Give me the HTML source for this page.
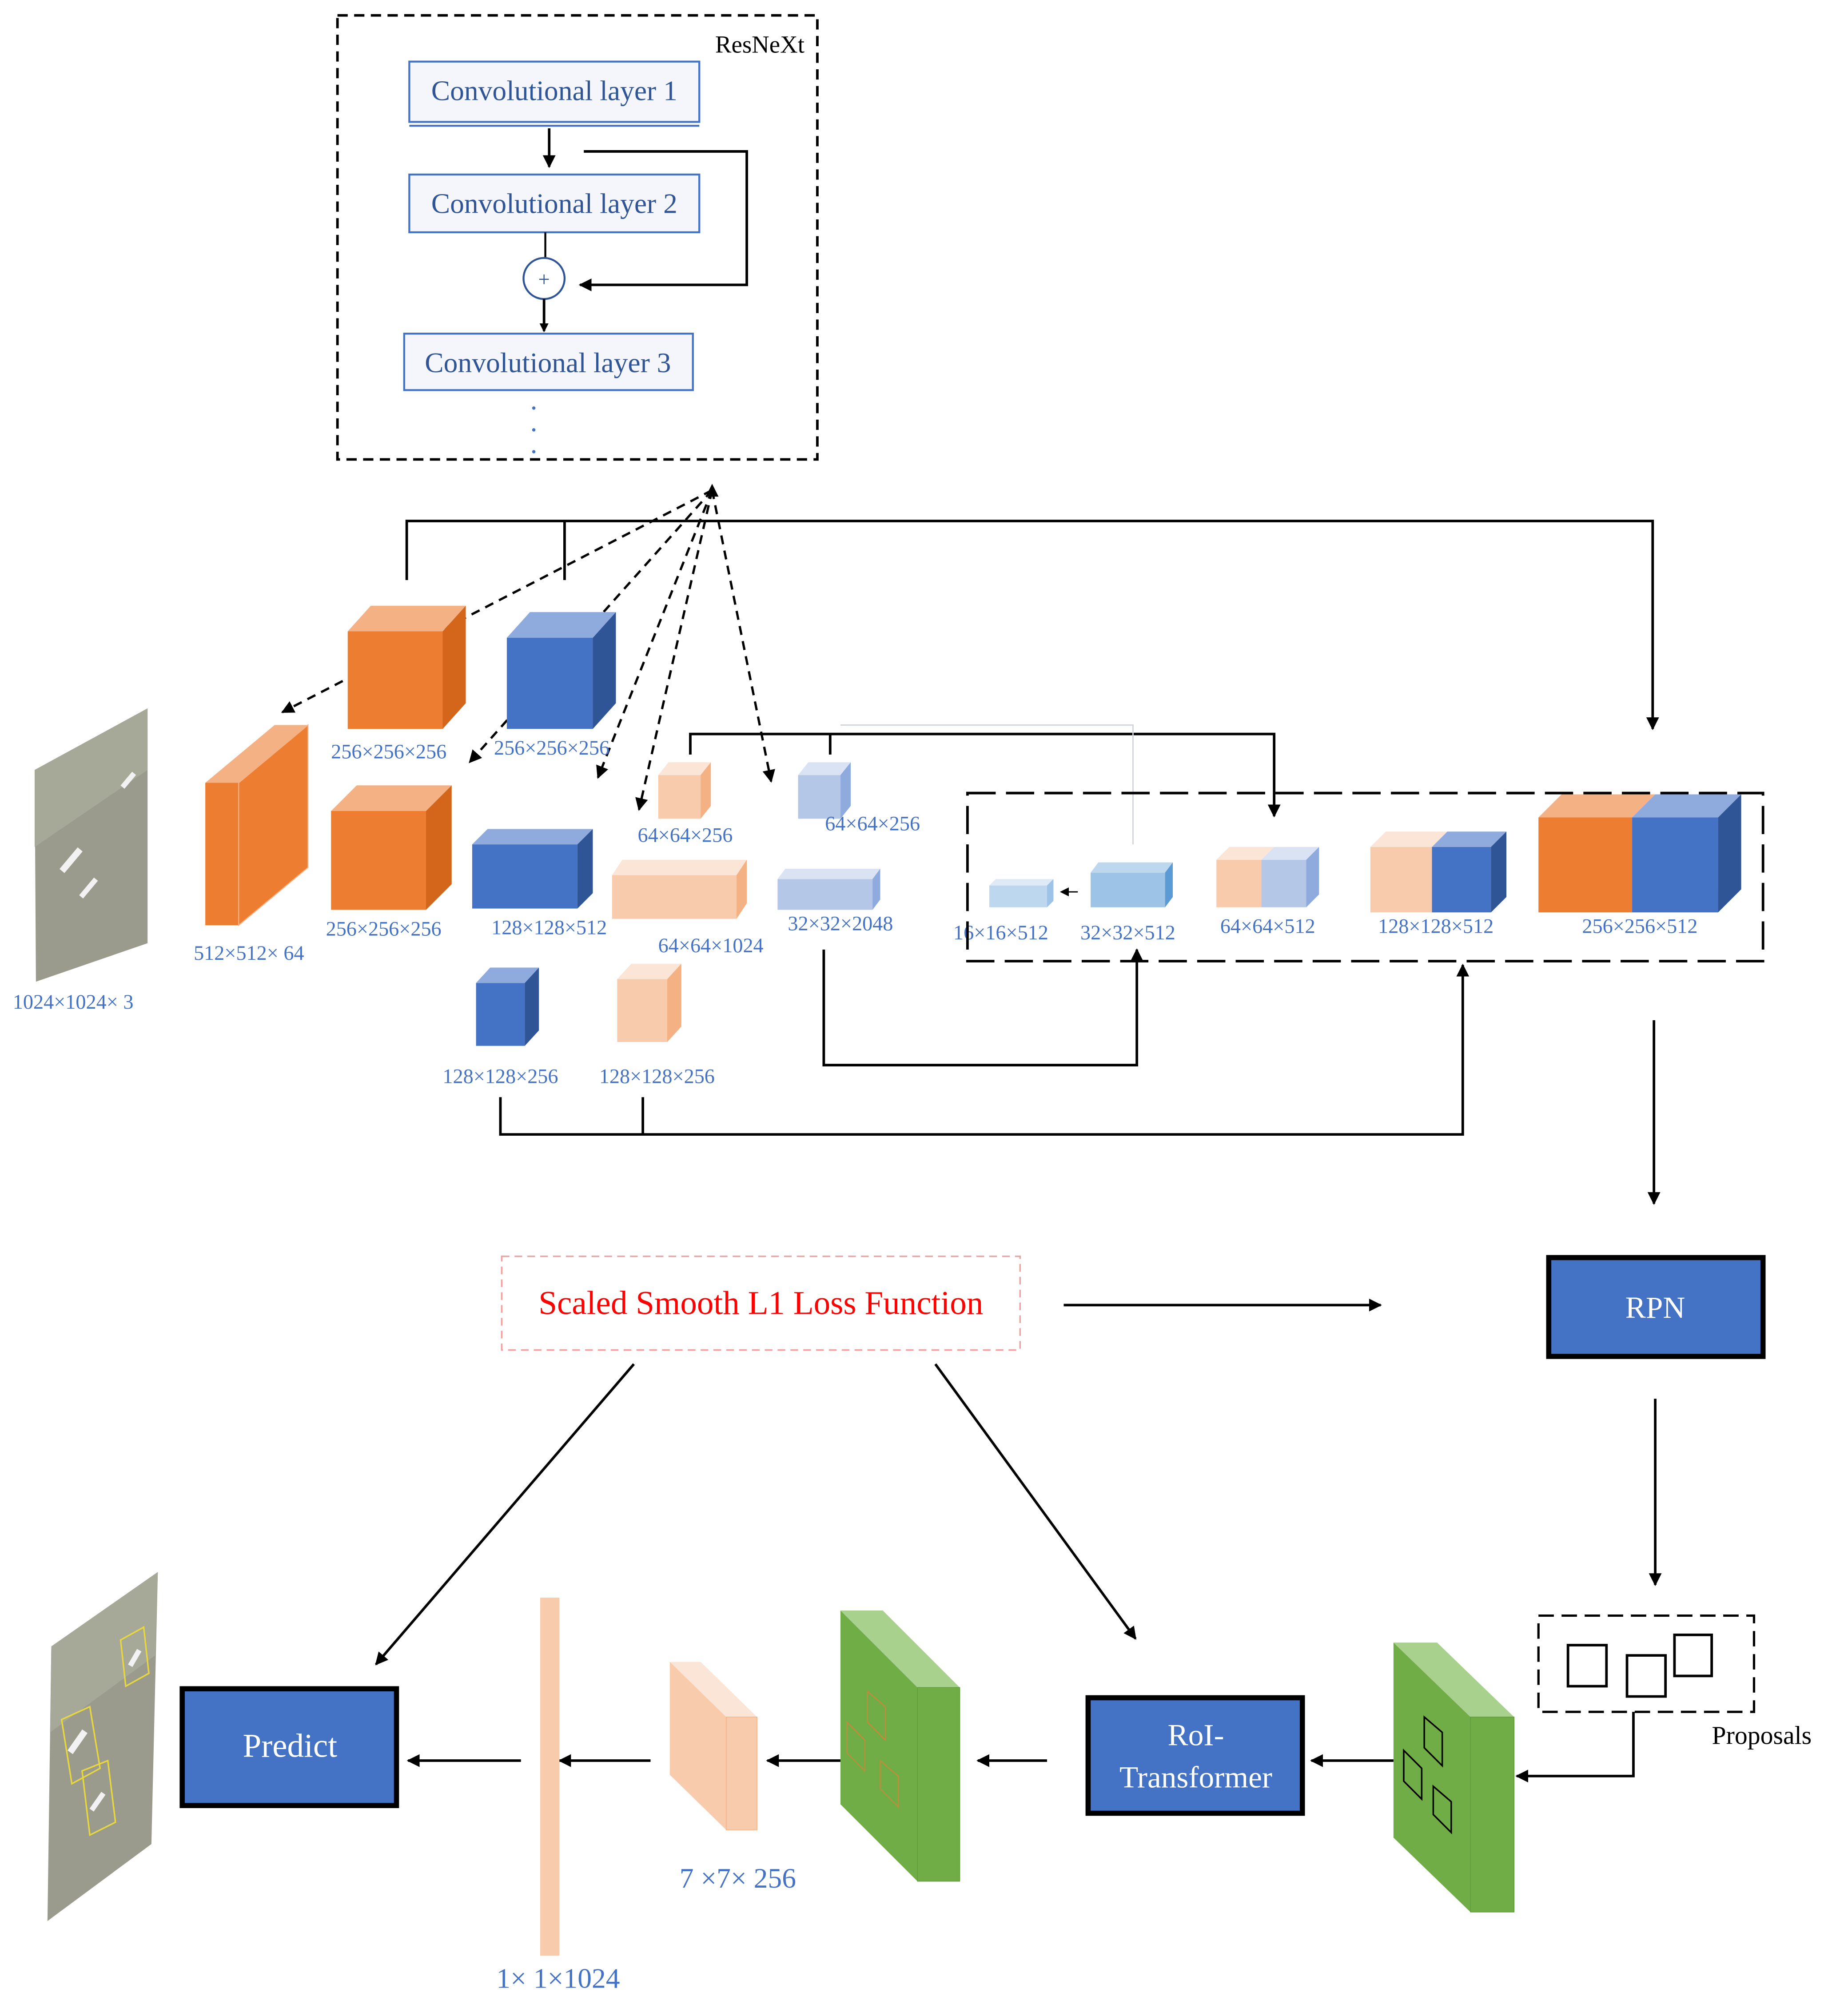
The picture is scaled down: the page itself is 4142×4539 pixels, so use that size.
<!DOCTYPE html>
<html><head><meta charset="utf-8"><style>
html,body{margin:0;padding:0;background:#fff;}
svg{display:block;}
text{font-family:"Liberation Serif",serif;}
</style></head><body>
<svg width="4142" height="4539" viewBox="0 0 1434 1571" preserveAspectRatio="none" xmlns="http://www.w3.org/2000/svg">
<defs>
<marker id="a" markerWidth="10" markerHeight="10" refX="9" refY="5" orient="auto" markerUnits="userSpaceOnUse"><path d="M0,0 L10,5 L0,10 z" fill="#000"/></marker>
<marker id="s" markerWidth="7" markerHeight="7" refX="6" refY="3.5" orient="auto" markerUnits="userSpaceOnUse"><path d="M0,0 L7,3.5 L0,7 z" fill="#000"/></marker>
</defs>
<rect width="1434" height="1571" fill="#fff"/>

<rect x="263" y="12" width="374" height="346" fill="none" stroke="#000" stroke-width="2" stroke-dasharray="8,5"/>
<text x="627" y="41" font-size="19" text-anchor="end" fill="#000">ResNeXt</text>
<rect x="319" y="48" width="226" height="47" fill="#f4f6fb" stroke="#4472c4" stroke-width="1.5"/>
<line x1="319" y1="98" x2="545" y2="98" stroke="#4472c4" stroke-width="1.5"/>
<text x="432" y="78" font-size="22" text-anchor="middle" fill="#2f5597">Convolutional layer 1</text>
<line x1="428" y1="100" x2="428" y2="130" stroke="#000" stroke-width="2" marker-end="url(#a)"/>
<polyline points="455,118 582,118 582,222 452,222" fill="none" stroke="#000" stroke-width="2" marker-end="url(#a)"/>
<rect x="319" y="136" width="226" height="45" fill="#f4f6fb" stroke="#4472c4" stroke-width="1.5"/>
<text x="432" y="166" font-size="22" text-anchor="middle" fill="#2f5597">Convolutional layer 2</text>
<line x1="425" y1="181" x2="425" y2="201" stroke="#000" stroke-width="1.5"/>
<circle cx="424" cy="217" r="16" fill="#fff" stroke="#2f5597" stroke-width="1.5"/>
<text x="424" y="223" font-size="16" text-anchor="middle" fill="#2f5597">+</text>
<line x1="424" y1="233" x2="424" y2="258" stroke="#000" stroke-width="2" marker-end="url(#s)"/>
<rect x="315" y="260" width="225" height="44" fill="#f4f6fb" stroke="#4472c4" stroke-width="1.5"/>
<text x="427" y="290" font-size="22" text-anchor="middle" fill="#2f5597">Convolutional layer 3</text>
<circle cx="416" cy="318" r="1.3" fill="#4472c4"/><circle cx="416" cy="335" r="1.3" fill="#4472c4"/><circle cx="416" cy="352" r="1.3" fill="#4472c4"/>

<g stroke="#000" stroke-width="1.8" stroke-dasharray="7,5" fill="none">
<line x1="555" y1="382" x2="220" y2="555" marker-end="url(#a)"/>
<line x1="555" y1="382" x2="366" y2="594" marker-end="url(#a)"/>
<line x1="555" y1="382" x2="466" y2="606" marker-end="url(#a)"/>
<line x1="555" y1="382" x2="498" y2="631" marker-end="url(#a)"/>
<line x1="555" y1="382" x2="601" y2="609" marker-end="url(#a)"/>
</g>
<path d="M555,377 L550,387 L560,387 z" fill="#000"/>

<polyline points="317,452 317,406 1288,406 1288,568" fill="none" stroke="#000" stroke-width="2" marker-end="url(#a)"/>
<line x1="440" y1="452" x2="440" y2="406" stroke="#000" stroke-width="2"/>

<g>
<rect x="271" y="492" width="74" height="76" fill="#ed7d31"/><polygon points="271,492 289,472 363,472 345,492" fill="#f4b183"/><polygon points="345,492 363,472 363,548 345,568" fill="#d4661c"/>
<rect x="395" y="497" width="67" height="71" fill="#4472c4"/><polygon points="395,497 413,477 480,477 462,497" fill="#8faadc"/><polygon points="462,497 480,477 480,548 462,568" fill="#2f5597"/>
<rect x="160" y="610" width="26" height="111" fill="#ed7d31"/><polygon points="160,610 214,565 240,565 186,610" fill="#f4b183"/><polygon points="186,610 240,565 240,676 186,721" fill="#ed7d31" stroke="#f4b183" stroke-width="0.8"/>
<rect x="258" y="632" width="74" height="77" fill="#ed7d31"/><polygon points="258,632 278,612 352,612 332,632" fill="#f4b183"/><polygon points="332,632 352,612 352,689 332,709" fill="#d4661c"/>
<rect x="368" y="658" width="82" height="50" fill="#4472c4"/><polygon points="368,658 380,646 462,646 450,658" fill="#8faadc"/><polygon points="450,658 462,646 462,696 450,708" fill="#2f5597"/>
<rect x="477" y="682" width="97" height="34" fill="#f8cbad"/><polygon points="477,682 485,670 582,670 574,682" fill="#fbe5d6"/><polygon points="574,682 582,670 582,704 574,716" fill="#f4b183"/>
<rect x="513" y="604" width="33" height="34" fill="#f8cbad"/><polygon points="513,604 521,594 554,594 546,604" fill="#fbe5d6"/><polygon points="546,604 554,594 554,628 546,638" fill="#f4b183"/>
<rect x="622" y="604" width="33" height="34" fill="#b4c7e7"/><polygon points="622,604 630,594 663,594 655,604" fill="#dae3f3"/><polygon points="655,604 663,594 663,628 655,638" fill="#8faadc"/>
<rect x="606" y="685" width="74" height="24" fill="#b4c7e7"/><polygon points="606,685 612,677 686,677 680,685" fill="#dae3f3"/><polygon points="680,685 686,677 686,701 680,709" fill="#8faadc"/>
<rect x="371" y="766" width="38" height="49" fill="#4472c4"/><polygon points="371,766 382,754 420,754 409,766" fill="#8faadc"/><polygon points="409,766 420,754 420,803 409,815" fill="#2f5597"/>
<rect x="481" y="763" width="39" height="49" fill="#f8cbad"/><polygon points="481,763 492,751 531,751 520,763" fill="#fbe5d6"/><polygon points="520,763 531,751 531,800 520,812" fill="#f4b183"/>
</g>

<g font-size="16" fill="#4472c4" text-anchor="middle">
<text x="303" y="591">256×256×256</text>
<text x="430" y="588">256×256×256</text>
<text x="194" y="748">512×512× 64</text>
<text x="299" y="729">256×256×256</text>
<text x="428" y="728">128×128×512</text>
<text x="554" y="742">64×64×1024</text>
<text x="534" y="656">64×64×256</text>
<text x="680" y="647">64×64×256</text>
<text x="655" y="725">32×32×2048</text>
<text x="390" y="844">128×128×256</text>
<text x="512" y="844">128×128×256</text>
<text x="57" y="786">1024×1024× 3</text>
<text x="780" y="732">16×16×512</text>
<text x="879" y="732">32×32×512</text>
<text x="988" y="727">64×64×512</text>
<text x="1119" y="727">128×128×512</text>
<text x="1278" y="727">256×256×512</text>
</g>

<polyline points="538,588 538,572 993,572 993,636" fill="none" stroke="#000" stroke-width="2" marker-end="url(#a)"/>
<line x1="647" y1="572" x2="647" y2="588" stroke="#000" stroke-width="2"/>
<polyline points="655,565 883,565 883,658" fill="none" stroke="#d0d4e0" stroke-width="1"/>

<rect x="754" y="618" width="620" height="131" fill="none" stroke="#000" stroke-width="2" stroke-dasharray="22,8"/>
<rect x="771" y="690" width="45" height="17" fill="#bdd7ee"/><polygon points="771,690 776,685 821,685 816,690" fill="#deebf7"/><polygon points="816,690 821,685 821,702 816,707" fill="#9dc3e6"/>
<line x1="840" y1="695" x2="827" y2="695" stroke="#000" stroke-width="1" marker-end="url(#s)"/>
<rect x="850" y="680" width="58" height="27" fill="#9dc3e6"/><polygon points="850,680 856,672 914,672 908,680" fill="#bdd7ee"/><polygon points="908,680 914,672 914,699 908,707" fill="#5b9bd5"/>
<rect x="948" y="670" width="35" height="37" fill="#f8cbad"/><rect x="983" y="670" width="35" height="37" fill="#b4c7e7"/>
<polygon points="948,670 958,660 993,660 983,670" fill="#fbe5d6"/><polygon points="983,670 993,660 1028,660 1018,670" fill="#dae3f3"/><polygon points="1018,670 1028,660 1028,697 1018,707" fill="#8faadc"/>
<rect x="1068" y="660" width="48" height="51" fill="#f8cbad"/><rect x="1116" y="660" width="46" height="51" fill="#4472c4"/>
<polygon points="1068,660 1080,648 1128,648 1116,660" fill="#fbe5d6"/><polygon points="1116,660 1128,648 1174,648 1162,660" fill="#8faadc"/><polygon points="1162,660 1174,648 1174,699 1162,711" fill="#2f5597"/>
<rect x="1199" y="637" width="73" height="74" fill="#ed7d31"/><rect x="1272" y="637" width="67" height="74" fill="#4472c4"/>
<polygon points="1199,637 1217,619 1290,619 1272,637" fill="#f4b183"/><polygon points="1272,637 1290,619 1357,619 1339,637" fill="#8faadc"/><polygon points="1339,637 1357,619 1357,693 1339,711" fill="#2f5597"/>

<polyline points="642,740 642,830 886,830 886,740" fill="none" stroke="#000" stroke-width="2" marker-end="url(#a)"/>
<polyline points="390,855 390,884 1140,884 1140,752" fill="none" stroke="#000" stroke-width="2" marker-end="url(#a)"/>
<line x1="501" y1="855" x2="501" y2="884" stroke="#000" stroke-width="2"/>

<polygon points="27,600 115,552 115,735 28,765" fill="#9a9b8c"/>
<polygon points="27,600 115,552 115,600 27,660" fill="#a6a898"/>
<g fill="#f2f2f2"><rect x="44" y="668" width="22" height="5" transform="rotate(-50 55 670)"/><rect x="60" y="690" width="18" height="4" transform="rotate(-50 69 692)"/><rect x="93" y="606" width="14" height="4" transform="rotate(-50 100 608)"/></g>

<line x1="1289" y1="795" x2="1289" y2="938" stroke="#000" stroke-width="2" marker-end="url(#a)"/>
<rect x="1207" y="980" width="167" height="77" fill="#4472c4" stroke="#000" stroke-width="4"/>
<text x="1290" y="1027" font-size="24" fill="#fff" text-anchor="middle">RPN</text>
<line x1="1290" y1="1090" x2="1290" y2="1235" stroke="#000" stroke-width="2" marker-end="url(#a)"/>
<rect x="1199" y="1259" width="168" height="75" fill="none" stroke="#000" stroke-width="1.8" stroke-dasharray="12,6"/>
<rect x="1222" y="1282" width="30" height="32" fill="none" stroke="#000" stroke-width="2"/>
<rect x="1268" y="1290" width="30" height="32" fill="none" stroke="#000" stroke-width="2"/>
<rect x="1305" y="1274" width="29" height="32" fill="none" stroke="#000" stroke-width="2"/>
<text x="1373" y="1359" font-size="20" fill="#000" text-anchor="middle">Proposals</text>
<polyline points="1273,1334 1273,1384 1182,1384" fill="none" stroke="#000" stroke-width="2" marker-end="url(#a)"/>

<polygon points="1086,1280 1120,1280 1180,1338 1146,1338" fill="#a9d18e"/>
<polygon points="1086,1280 1146,1338 1146,1490 1086,1432" fill="#70ad47"/>
<rect x="1146" y="1338" width="34" height="152" fill="#70ad47" stroke="#5f9a3a" stroke-width="0.5"/>
<g fill="none" stroke="#000" stroke-width="1.2"><polygon points="1110,1338 1124,1350 1124,1376 1110,1362"/><polygon points="1094,1364 1108,1378 1108,1402 1094,1388"/><polygon points="1117,1392 1131,1404 1131,1428 1117,1414"/></g>

<line x1="1086" y1="1372" x2="1022" y2="1372" stroke="#000" stroke-width="2" marker-end="url(#a)"/>
<rect x="848" y="1323" width="167" height="90" fill="#4472c4" stroke="#000" stroke-width="4"/>
<text x="932" y="1360" font-size="24" fill="#fff" text-anchor="middle">RoI-</text>
<text x="932" y="1393" font-size="24" fill="#fff" text-anchor="middle">Transformer</text>
<line x1="816" y1="1372" x2="762" y2="1372" stroke="#000" stroke-width="2" marker-end="url(#a)"/>

<polygon points="655,1255 688,1255 748,1315 715,1315" fill="#a9d18e"/>
<polygon points="655,1255 715,1315 715,1466 655,1406" fill="#70ad47"/>
<rect x="715" y="1315" width="33" height="151" fill="#70ad47" stroke="#5f9a3a" stroke-width="0.5"/>
<g fill="none" stroke="#c58a3a" stroke-width="0.8"><polygon points="676,1318 690,1330 690,1356 676,1342"/><polygon points="660,1342 674,1356 674,1380 660,1366"/><polygon points="686,1372 700,1384 700,1408 686,1394"/></g>

<line x1="655" y1="1372" x2="598" y2="1372" stroke="#000" stroke-width="2" marker-end="url(#a)"/>
<polygon points="522,1295 546,1295 590,1338 566,1338" fill="#fbe5d6"/>
<polygon points="522,1295 566,1338 566,1426 522,1383" fill="#f8cbad"/>
<rect x="566" y="1338" width="24" height="88" fill="#f8cbad" stroke="#f4b183" stroke-width="0.5"/>
<text x="575" y="1471" font-size="22" fill="#4472c4" text-anchor="middle">7 ×7× 256</text>
<line x1="507" y1="1372" x2="436" y2="1372" stroke="#000" stroke-width="2" marker-end="url(#a)"/>
<rect x="421" y="1245" width="15" height="279" fill="#f8cbad"/>
<text x="435" y="1549" font-size="22" fill="#4472c4" text-anchor="middle">1× 1×1024</text>
<line x1="406" y1="1372" x2="318" y2="1372" stroke="#000" stroke-width="2" marker-end="url(#a)"/>
<rect x="142" y="1316" width="167" height="91" fill="#4472c4" stroke="#000" stroke-width="4"/>
<text x="226" y="1369" font-size="26" fill="#fff" text-anchor="middle">Predict</text>

<polygon points="40,1283 123,1225 118,1437 37,1497" fill="#9a9b8c"/>
<polygon points="40,1283 123,1225 121,1290 39,1350" fill="#a6a898"/>
<g fill="none" stroke="#e6d640" stroke-width="1.2"><polygon points="48,1340 70,1330 78,1378 56,1390"/><polygon points="64,1380 84,1372 90,1420 70,1430"/><polygon points="94,1278 112,1268 116,1304 98,1314"/></g>
<g fill="#f2f2f2"><rect x="50" y="1355" width="20" height="5" transform="rotate(-55 60 1357)"/><rect x="68" y="1402" width="16" height="4" transform="rotate(-55 76 1404)"/><rect x="98" y="1290" width="14" height="4" transform="rotate(-60 105 1292)"/></g>

<rect x="391" y="979" width="404" height="73" fill="none" stroke="#f4a0a0" stroke-width="1.2" stroke-dasharray="6,4"/>
<text x="593" y="1024" font-size="26" fill="#ff0000" text-anchor="middle">Scaled Smooth L1 Loss Function</text>
<line x1="829" y1="1017" x2="1076" y2="1017" stroke="#000" stroke-width="2" marker-end="url(#a)"/>
<line x1="494" y1="1063" x2="293" y2="1297" stroke="#000" stroke-width="2" marker-end="url(#a)"/>
<line x1="729" y1="1063" x2="885" y2="1277" stroke="#000" stroke-width="2" marker-end="url(#a)"/>
</svg>
</body></html>
